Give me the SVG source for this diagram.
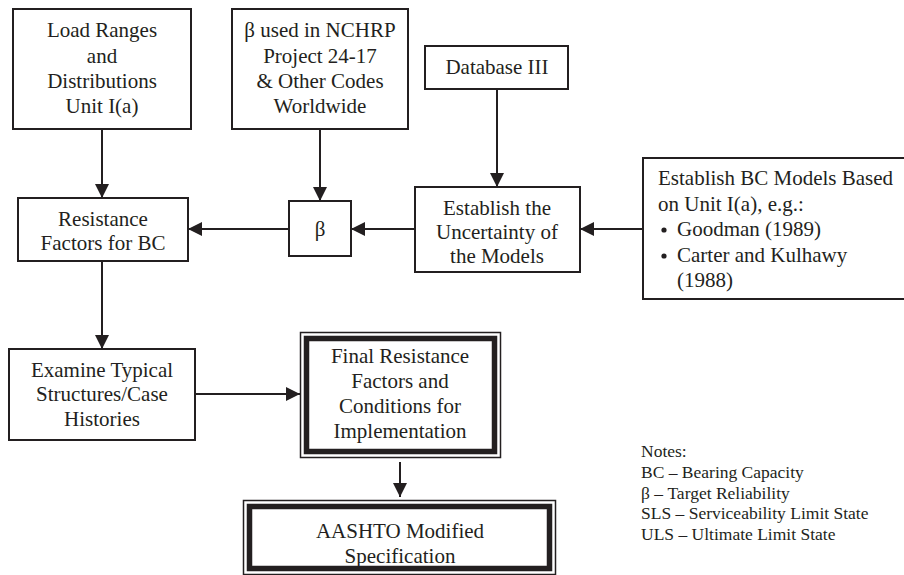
<svg xmlns="http://www.w3.org/2000/svg" width="904" height="575" viewBox="0 0 904 575">
<style>
.box{fill:#fff;stroke:#231f20;stroke-width:2}
.thin{fill:none;stroke:#231f20;stroke-width:1.5}
.thick{fill:#fff;stroke:#231f20;stroke-width:5.5}
.t{font-family:"Liberation Serif","Times New Roman",serif;font-size:21px;fill:#231f20;text-anchor:middle}
.l{font-family:"Liberation Serif","Times New Roman",serif;font-size:21px;fill:#231f20}
.n{font-family:"Liberation Serif","Times New Roman",serif;font-size:17.5px;fill:#231f20}
.c{fill:none;stroke:#231f20;stroke-width:2}
</style>
<defs>
<marker id="ah" viewBox="0 0 14 14" refX="14" refY="7" markerWidth="14" markerHeight="14" markerUnits="userSpaceOnUse" orient="auto">
<path d="M0,0 L14,7 L0,14 Z" fill="#231f20"/>
</marker>
</defs>
<rect width="904" height="575" fill="#fff"/>
<g id="connectors">
<line class="c" x1="102" y1="129" x2="102" y2="198" marker-end="url(#ah)"/>
<line class="c" x1="320" y1="129" x2="320" y2="201" marker-end="url(#ah)"/>
<line class="c" x1="497" y1="89" x2="497" y2="187" marker-end="url(#ah)"/>
<line class="c" x1="643" y1="229" x2="580" y2="229" marker-end="url(#ah)"/>
<line class="c" x1="415" y1="229" x2="351" y2="229" marker-end="url(#ah)"/>
<line class="c" x1="289" y1="229" x2="188" y2="229" marker-end="url(#ah)"/>
<line class="c" x1="102" y1="261" x2="102" y2="349" marker-end="url(#ah)"/>
<line class="c" x1="195" y1="394" x2="300" y2="394" marker-end="url(#ah)"/>
<line class="c" x1="400" y1="462" x2="400" y2="497" marker-end="url(#ah)"/>
</g>
<g id="load-ranges">
<rect class="box" x="13" y="9" width="178" height="120"/>
<text class="t" x="102" y="37">Load Ranges</text>
<text class="t" x="102" y="63">and</text>
<text class="t" x="102" y="88">Distributions</text>
<text class="t" x="102" y="113">Unit I(a)</text>
</g>
<g id="beta-nchrp">
<rect class="box" x="232" y="9" width="176" height="120"/>
<text class="t" x="320" y="37">β used in NCHRP</text>
<text class="t" x="320" y="63">Project 24-17</text>
<text class="t" x="320" y="88">&amp; Other Codes</text>
<text class="t" x="320" y="113">Worldwide</text>
</g>
<g id="database">
<rect class="box" x="425" y="46" width="143" height="43"/>
<text class="t" x="497" y="74">Database III</text>
</g>
<g id="uncertainty">
<rect class="box" x="415" y="187" width="165" height="85"/>
<text class="t" x="497" y="215">Establish the</text>
<text class="t" x="497" y="239">Uncertainty of</text>
<text class="t" x="497" y="263">the Models</text>
</g>
<g id="bc-models">
<rect class="box" x="643" y="158" width="270" height="141"/>
<text class="l" x="658" y="185">Establish BC Models Based</text>
<text class="l" x="658" y="211">on Unit I(a), e.g.:</text>
<circle cx="664" cy="230" r="2.6" fill="#231f20"/>
<text class="l" x="677" y="236">Goodman (1989)</text>
<circle cx="664" cy="256" r="2.6" fill="#231f20"/>
<text class="l" x="677" y="262">Carter and Kulhawy</text>
<text class="l" x="677" y="287">(1988)</text>
</g>
<g id="beta">
<rect class="box" x="289" y="201" width="62" height="55"/>
<text class="t" x="320" y="236">β</text>
</g>
<g id="resistance-factors">
<rect class="box" x="18" y="198" width="170" height="63"/>
<text class="t" x="103" y="226">Resistance</text>
<text class="t" x="103" y="250">Factors for BC</text>
</g>
<g id="examine">
<rect class="box" x="9" y="349" width="186" height="91"/>
<text class="t" x="102" y="377">Examine Typical</text>
<text class="t" x="102" y="401">Structures/Case</text>
<text class="t" x="102" y="426">Histories</text>
</g>
<g id="final">
<rect class="thin" x="300.5" y="332.5" width="200" height="125"/>
<rect class="thick" x="306.5" y="338.5" width="188" height="113"/>
<text class="t" x="400" y="363">Final Resistance</text>
<text class="t" x="400" y="388">Factors and</text>
<text class="t" x="400" y="413">Conditions for</text>
<text class="t" x="400" y="438">Implementation</text>
</g>
<g id="aashto">
<rect class="thin" x="243.5" y="500.5" width="312" height="74"/>
<rect class="thick" x="249.5" y="506.5" width="300" height="62"/>
<text class="t" x="400" y="538">AASHTO Modified</text>
<text class="t" x="400" y="563">Specification</text>
</g>
<g id="notes">
<text class="n" x="641" y="457">Notes:</text>
<text class="n" x="641" y="478">BC – Bearing Capacity</text>
<text class="n" x="641" y="499">β – Target Reliability</text>
<text class="n" x="641" y="519">SLS – Serviceability Limit State</text>
<text class="n" x="641" y="540">ULS – Ultimate Limit State</text>
</g>
</svg>
